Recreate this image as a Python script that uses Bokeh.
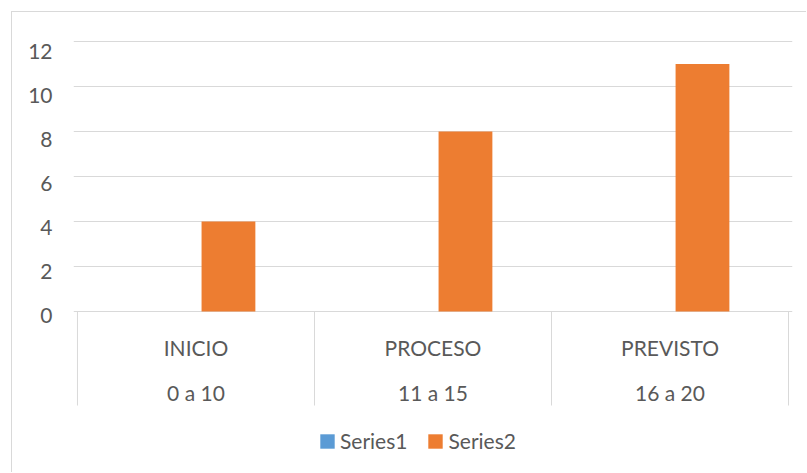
from bokeh.plotting import figure
from bokeh.models import (ColumnDataSource, FactorRange, Range1d, LinearAxis,
                          FixedTicker, Grid, Legend, LegendItem)
from bokeh.transform import dodge
from bokeh.core.properties import value
from bokeh.embed import file_html
from bokeh.resources import INLINE

# ---- data ----
categories = ["INICIO", "PROCESO", "PREVISTO"]
ranges = ["0 a 10", "11 a 15", "16 a 20"]
series1 = [0, 0, 0]
series2 = [4, 8, 11]
yticks = [0, 2, 4, 6, 8, 10, 12]

FONT = "Lato"
TEXT = "#595959"
GRIDC = "#d9d9d9"
BLUE = "#5B9BD5"
ORANGE = "#ED7D31"

src = ColumnDataSource(dict(cat=categories, rng=ranges, s1=series1, s2=series2))

p = figure(width=795, height=461,
           x_range=FactorRange(factors=categories, range_padding=0.0168,
                               range_padding_units="absolute"),
           y_range=Range1d(-7.2, 12.444),
           x_axis_location=None, y_axis_location=None,
           output_backend="svg", toolbar_location=None,
           min_border_left=61, min_border_right=15, min_border_top=19,
           min_border_bottom=0, margin=(11, 0, 0, 11),
           styles={"border-left": "1px solid #d9d9d9",
                   "border-top": "1px solid #d9d9d9"})
p.outline_line_color = None
p.background_fill_color = "white"
p.border_fill_color = "white"
for g in p.grid:
    g.visible = False

# gridlines
grid = Grid(dimension=1, ticker=FixedTicker(ticks=yticks),
            grid_line_color=GRIDC, grid_line_width=1)
p.add_layout(grid)

# y axis labels
p.extra_y_ranges = {"labels": Range1d(-7.195, 12.933)}
ax = LinearAxis(y_range_name="labels", ticker=FixedTicker(ticks=yticks))
ax.axis_line_color = None
ax.major_tick_line_color = None
ax.minor_tick_line_color = None
ax.major_tick_out = 0
ax.major_tick_in = 0
ax.major_label_standoff = 21
ax.major_label_text_font = FONT
ax.major_label_text_font_size = "21px"
ax.major_label_text_color = TEXT
p.add_layout(ax, "left")

# bars
r1 = p.vbar(x=dodge("cat", -0.137, range=p.x_range), top="s1", width=0.227,
            source=src, fill_color=BLUE, line_color=None)
r2 = p.vbar(x=dodge("cat", 0.137, range=p.x_range), top="s2", width=0.227,
            source=src, fill_color=ORANGE, line_color=None)

# category separators
p.segment(x0=dodge("cat", -0.5, range=p.x_range), y0=0,
          x1=dodge("cat", -0.5, range=p.x_range), y1=-4.178,
          source=src, line_color=GRIDC, line_width=1)
last = ColumnDataSource(dict(cat=[categories[-1]]))
p.segment(x0=dodge("cat", 0.5, range=p.x_range), y0=0,
          x1=dodge("cat", 0.5, range=p.x_range), y1=-4.178,
          source=last, line_color=GRIDC, line_width=1)

# category labels (two levels)
p.text(x="cat", y=-1.587, text="cat", source=src, text_font=value(FONT),
       text_font_size=value("21px"), text_color=TEXT,
       text_align="center", text_baseline="middle")
p.text(x="cat", y=-3.587, text="rng", source=src, text_font=value(FONT),
       text_font_size=value("21px"), text_color=TEXT,
       text_align="center", text_baseline="middle")

legend = Legend(items=[LegendItem(label="Series1", renderers=[r1]),
                       LegendItem(label="Series2", renderers=[r2])],
                orientation="horizontal", location=(245, 20),
                padding=0, margin=0, spacing=19, label_standoff=4,
                glyph_width=18, glyph_height=18,
                border_line_color=None, background_fill_alpha=0,
                label_text_font=FONT, label_text_font_size="21px",
                label_text_color=TEXT)
p.add_layout(legend)

open("out.html", "w").write(file_html(p, INLINE))
